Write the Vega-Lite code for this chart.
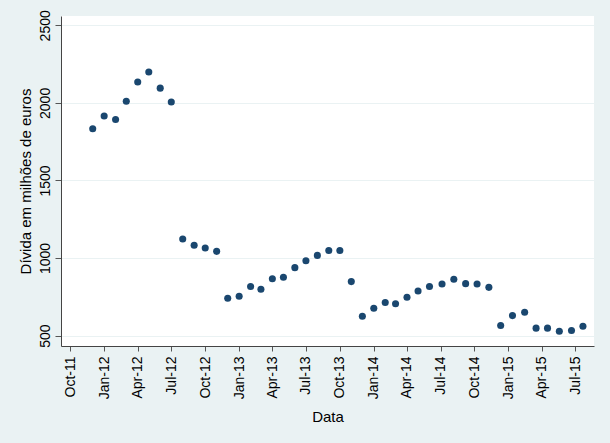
{
  "$schema": "https://vega.github.io/schema/vega-lite/v6.json",
  "autosize": {"type": "none"},
  "width": 533,
  "height": 330,
  "padding": {"left": 61, "top": 16, "right": 16, "bottom": 97},
  "background": "#EAF2F3",
  "config": {
    "view": {"fill": "white", "stroke": null},
    "font": "Liberation Sans"
  },
  "data": {
    "values": [
      {"date": "2011-12-01", "divida": 1833},
      {"date": "2012-01-01", "divida": 1916},
      {"date": "2012-02-01", "divida": 1893},
      {"date": "2012-03-01", "divida": 2011},
      {"date": "2012-04-01", "divida": 2135},
      {"date": "2012-05-01", "divida": 2199},
      {"date": "2012-06-01", "divida": 2095},
      {"date": "2012-07-01", "divida": 2006},
      {"date": "2012-08-01", "divida": 1123},
      {"date": "2012-09-01", "divida": 1082},
      {"date": "2012-10-01", "divida": 1065},
      {"date": "2012-11-01", "divida": 1043},
      {"date": "2012-12-01", "divida": 741},
      {"date": "2013-01-01", "divida": 754},
      {"date": "2013-02-01", "divida": 816},
      {"date": "2013-03-01", "divida": 799},
      {"date": "2013-04-01", "divida": 867},
      {"date": "2013-05-01", "divida": 876},
      {"date": "2013-06-01", "divida": 938},
      {"date": "2013-07-01", "divida": 983},
      {"date": "2013-08-01", "divida": 1017},
      {"date": "2013-09-01", "divida": 1048},
      {"date": "2013-10-01", "divida": 1048},
      {"date": "2013-11-01", "divida": 848},
      {"date": "2013-12-01", "divida": 625},
      {"date": "2014-01-01", "divida": 676},
      {"date": "2014-02-01", "divida": 713},
      {"date": "2014-03-01", "divida": 705},
      {"date": "2014-04-01", "divida": 747},
      {"date": "2014-05-01", "divida": 788},
      {"date": "2014-06-01", "divida": 816},
      {"date": "2014-07-05", "divida": 833},
      {"date": "2014-08-06", "divida": 863},
      {"date": "2014-09-07", "divida": 835},
      {"date": "2014-10-08", "divida": 833},
      {"date": "2014-11-09", "divida": 811},
      {"date": "2014-12-11", "divida": 565},
      {"date": "2015-01-12", "divida": 629},
      {"date": "2015-02-14", "divida": 651},
      {"date": "2015-03-17", "divida": 548},
      {"date": "2015-04-17", "divida": 548},
      {"date": "2015-05-19", "divida": 528},
      {"date": "2015-06-21", "divida": 533},
      {"date": "2015-07-22", "divida": 560}
    ]
  },
  "mark": {"type": "point", "filled": true, "shape": "circle", "size": 50, "color": "#1A476F", "opacity": 1},
  "encoding": {
    "x": {
      "field": "date",
      "type": "temporal",
      "title": "Data",
      "scale": {
        "type": "utc",
        "domain": [
          {"year": 2011, "month": 9, "date": 6, "utc": true},
          {"year": 2015, "month": 8, "date": 21, "utc": true}
        ]
      },
      "axis": {
        "values": [
          {"year": 2011, "month": 10, "date": 1, "utc": true},
          {"year": 2012, "month": 1, "date": 1, "utc": true},
          {"year": 2012, "month": 4, "date": 1, "utc": true},
          {"year": 2012, "month": 7, "date": 1, "utc": true},
          {"year": 2012, "month": 10, "date": 1, "utc": true},
          {"year": 2013, "month": 1, "date": 1, "utc": true},
          {"year": 2013, "month": 4, "date": 1, "utc": true},
          {"year": 2013, "month": 7, "date": 1, "utc": true},
          {"year": 2013, "month": 10, "date": 1, "utc": true},
          {"year": 2014, "month": 1, "date": 1, "utc": true},
          {"year": 2014, "month": 4, "date": 1, "utc": true},
          {"year": 2014, "month": 7, "date": 1, "utc": true},
          {"year": 2014, "month": 10, "date": 1, "utc": true},
          {"year": 2015, "month": 1, "date": 1, "utc": true},
          {"year": 2015, "month": 4, "date": 1, "utc": true},
          {"year": 2015, "month": 7, "date": 1, "utc": true}
        ],
        "labelExpr": "utcFormat(datum.value, '%b-%y')",
        "grid": false,
        "labelAngle": -90,
        "labelAlign": "right",
        "labelBaseline": "middle",
        "labelFontSize": 14,
        "labelColor": "black",
        "labelPadding": 5,
        "labelOverlap": false,
        "labelFlush": false,
        "tickSize": 5,
        "tickColor": "#555",
        "domainColor": "#444",
        "titleFontSize": 15,
        "titleFontWeight": "normal",
        "titleColor": "black",
        "titlePadding": 11
      }
    },
    "y": {
      "field": "divida",
      "type": "quantitative",
      "title": "Dívida em milhões de euros",
      "scale": {"domain": [433, 2560], "nice": false, "zero": false},
      "axis": {
        "values": [500, 1000, 1500, 2000, 2500],
        "format": "d",
        "labelAngle": -90,
        "labelAlign": "center",
        "labelBaseline": "bottom",
        "labelFontSize": 14,
        "labelColor": "black",
        "labelPadding": 3,
        "labelFlush": false,
        "labelOverlap": false,
        "tickSize": 6,
        "tickColor": "#555",
        "domainColor": "#444",
        "gridColor": "#EAF2F3",
        "gridWidth": 1.2,
        "titleFontSize": 15,
        "titleFontWeight": "normal",
        "titleColor": "black",
        "titlePadding": 5
      }
    }
  }
}
